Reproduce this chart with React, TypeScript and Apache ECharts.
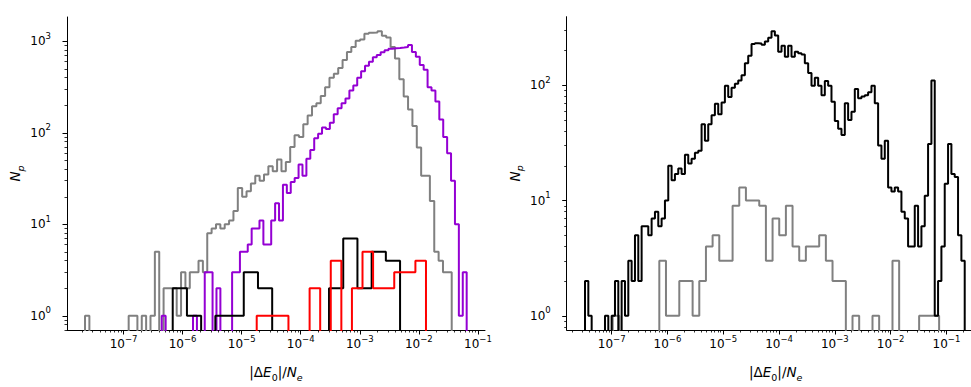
import React, { useEffect, useRef } from "react";
import * as echarts from "echarts";

// ---------------- DATA ----------------
// Histograms of |ΔE0|/Ne (x, log10 bin edges) vs N_p (counts).
// Each histogram: first bin edge (log10), bin width (decades), counts per bin.

// Left panel
const leftGrayFirstEdge = -7.652;
const leftGrayBinWidth = 0.07391;
const leftGrayCounts = [
  1, 0, 0, 0, 0, 0, 0, 0, 0, 0,
  1, 1, 0, 1, 0, 1, 5, 0, 2, 2,
  2, 1, 3, 2, 3, 3, 4, 3, 8, 9,
  10, 9, 10, 11, 14, 25, 20, 23, 28, 34,
  30, 35, 43, 38, 51, 38, 48, 70, 94, 90,
  124, 155, 195, 210, 253, 315, 400, 442, 510, 625,
  766, 866, 1015, 1050, 1210, 1245, 1250, 1290, 1150, 1100,
  866, 650, 385, 250, 180, 119, 69, 34, 34, 18,
  5, 4, 3, 3,
];

const leftPurpleFirstEdge = -6.353;
const leftPurpleBinWidth = 0.06619;
const leftPurpleCounts = [
  1, 0, 0, 0, 0, 0, 0, 0, 1, 0,
  0, 3, 3, 0, 2, 0, 0, 0, 3, 3,
  5, 5, 6, 9, 9, 11, 6, 6, 11, 17,
  11, 27, 22, 29, 32, 45, 34, 52, 65, 87,
  98, 114, 110, 129, 160, 186, 210, 237, 290, 330,
  400, 470, 540, 600, 670, 710, 760, 800, 830, 840,
  845, 855, 866, 910, 766, 680, 553, 490, 315, 290,
  220, 140, 90, 60, 30, 10, 1, 3,
];

const leftBlackFirstEdge = -6.167;
const leftBlackBinWidth = 0.24056;
const leftBlackCounts = [2, 1, 0, 1, 1, 3, 2, 0, 0, 0, 0, 2, 7, 2, 5, 4];

const leftRedFirstEdge = -4.745;
const leftRedBinWidth = 0.17911;
const leftRedCounts = [1, 1, 1, 0, 0, 2, 0, 4, 0, 2, 5, 2, 2, 3, 3, 4];

// Right panel
const rightBlackFirstEdge = -7.478;
const rightBlackBinWidth = 0.0597;
const rightBlackCounts = [
  2, 1, 0, 0, 0, 0, 1, 0, 1, 2,
  0, 2, 1, 3, 2, 5, 2, 6, 6, 5,
  7, 8, 6, 7, 10, 20, 15, 17, 19, 17,
  25, 21, 23, 26, 27, 46, 33, 46, 55, 69,
  56, 71, 99, 79, 95, 103, 110, 122, 155, 180,
  228, 232, 230, 225, 240, 259, 295, 270, 195, 220,
  177, 220, 177, 195, 190, 185, 155, 128, 99, 116,
  99, 82, 109, 99, 72, 49, 42, 37, 70, 50,
  59, 93, 77, 80, 82, 87, 99, 70, 30, 23,
  33, 13, 12, 13, 12, 8, 7, 4, 4, 9,
  4, 6, 11, 31, 110, 1, 2, 4, 14, 31,
  17, 16, 5, 3,
];

const rightGrayFirstEdge = -6.982;
const rightGrayBinWidth = 0.11941;
const rightGrayCounts = [
  1, 0, 0, 0, 0, 0, 0, 3, 1, 1,
  2, 2, 1, 2, 4, 5, 3, 3, 9, 13,
  10, 10, 9, 3, 7, 5, 9, 4, 3, 4,
  4, 5, 3, 2, 2, 0, 1, 0, 0, 1,
  0, 0, 3, 0, 0, 0, 1, 1, 1,
];

// Tick decades (exponents of 10)
const xTickExponents = [-7, -6, -5, -4, -3, -2, -1];
const leftYTickExponents = [0, 1, 2, 3];
const rightYTickExponents = [0, 1, 2];

// Axis ranges (log10)
const leftXRange = [-7.957, -0.88];
const leftYRange = [-0.155, 3.266];
const rightXRange = [-7.806, -0.314];
const rightYRange = [-0.123, 2.595];

// ---------------- HELPERS ----------------
const FONT = "DejaVu Sans";
const FLOOR = -3; // empty bins fall below the axis

function stepData(first: number, width: number, counts: number[]) {
  const pts: number[][] = [[first, FLOOR]];
  counts.forEach((c, i) => {
    pts.push([first + i * width, c > 0 ? Math.log10(c) : FLOOR]);
  });
  pts.push([first + counts.length * width, FLOOR]);
  return pts;
}

function minorExponents(lo: number, hi: number) {
  const out: number[] = [];
  for (let d = Math.floor(lo) - 1; d <= Math.ceil(hi); d++) {
    for (let k = 2; k <= 9; k++) {
      const v = d + Math.log10(k);
      if (v >= lo && v <= hi) out.push(v);
    }
  }
  return out;
}

function expLabel(v: number) {
  const n = Math.round(v);
  const e = n < 0 ? "\u2212" + Math.abs(n) : String(n);
  return `{b|10}{s|${e}}`;
}

const tickRich = {
  b: { fontFamily: FONT, fontSize: 12, lineHeight: 20, color: "#000" },
  s: { fontFamily: FONT, fontSize: 8.5, lineHeight: 10, verticalAlign: "top", color: "#000" },
};

const nameRich = {
  t: { fontFamily: FONT, fontSize: 13.5, lineHeight: 20, color: "#000" },
  i: { fontFamily: FONT, fontSize: 13.5, fontStyle: "italic", lineHeight: 20, color: "#000" },
  d: { fontFamily: FONT, fontSize: 9.5, lineHeight: 12, verticalAlign: "bottom", color: "#000" },
  di: { fontFamily: FONT, fontSize: 9.5, fontStyle: "italic", lineHeight: 12, verticalAlign: "bottom", color: "#000" },
};

const X_NAME = "{t||Δ}{i|E}{d|0}{t||/}{i|N}{di|e}";
const Y_NAME = "{i|N}{di|p}";

function majorX(gridIndex: number, range: number[]) {
  return {
    type: "value",
    gridIndex,
    position: "bottom",
    min: range[0],
    max: range[1],
    name: X_NAME,
    nameLocation: "middle",
    nameGap: 32,
    nameTextStyle: { rich: nameRich },
    axisLine: { show: true, onZero: false, lineStyle: { color: "#000", width: 1 } },
    axisTick: { show: true, customValues: xTickExponents, length: 4.5, lineStyle: { color: "#000", width: 1 } },
    axisLabel: { show: true, customValues: xTickExponents, formatter: expLabel, margin: 4, rich: tickRich },
    splitLine: { show: false },
  };
}

function minorX(gridIndex: number, range: number[]) {
  return {
    type: "value",
    gridIndex,
    position: "bottom",
    min: range[0],
    max: range[1],
    axisLine: { show: false, onZero: false },
    axisTick: { show: true, customValues: minorExponents(range[0], range[1]), length: 2.5, lineStyle: { color: "#000", width: 0.8 } },
    axisLabel: { show: false },
    splitLine: { show: false },
  };
}

function majorY(gridIndex: number, range: number[], ticks: number[]) {
  return {
    type: "value",
    gridIndex,
    position: "left",
    min: range[0],
    max: range[1],
    name: Y_NAME,
    nameLocation: "middle",
    nameRotate: 90,
    nameGap: 42,
    nameTextStyle: { rich: nameRich },
    axisLine: { show: true, onZero: false, lineStyle: { color: "#000", width: 1 } },
    axisTick: { show: true, customValues: ticks, length: 4.5, lineStyle: { color: "#000", width: 1 } },
    axisLabel: { show: true, customValues: ticks, formatter: expLabel, margin: 16, rich: tickRich },
    splitLine: { show: false },
  };
}

function minorY(gridIndex: number, range: number[]) {
  return {
    type: "value",
    gridIndex,
    position: "left",
    min: range[0],
    max: range[1],
    axisLine: { show: false, onZero: false },
    axisTick: { show: true, customValues: minorExponents(range[0], range[1]), length: 2.5, lineStyle: { color: "#000", width: 0.8 } },
    axisLabel: { show: false },
    splitLine: { show: false },
  };
}

function hist(name: string, xi: number, yi: number, first: number, width: number, counts: number[], color: string) {
  return {
    type: "line",
    name,
    xAxisIndex: xi,
    yAxisIndex: yi,
    step: "end",
    symbol: "none",
    showSymbol: false,
    clip: true,
    silent: true,
    data: stepData(first, width, counts),
    lineStyle: { color, width: 2 },
  };
}

export default function App() {
  const ref = useRef<HTMLDivElement>(null);

  useEffect(() => {
    if (!ref.current) return;
    const chart = echarts.init(ref.current, null, { renderer: "svg" });
    chart.setOption({
      animation: false,
      backgroundColor: "#ffffff",
      textStyle: { fontFamily: FONT },
      grid: [
        { left: 67, top: 17, width: 418, height: 325 },
        { left: 566.7, top: 16.7, width: 418, height: 325.3 },
      ],
      xAxis: [
        majorX(0, leftXRange),
        minorX(0, leftXRange),
        majorX(1, rightXRange),
        minorX(1, rightXRange),
      ],
      yAxis: [
        majorY(0, leftYRange, leftYTickExponents),
        minorY(0, leftYRange),
        majorY(1, rightYRange, rightYTickExponents),
        minorY(1, rightYRange),
      ],
      series: [
        hist("gray", 0, 0, leftGrayFirstEdge, leftGrayBinWidth, leftGrayCounts, "#808080"),
        hist("purple", 0, 0, leftPurpleFirstEdge, leftPurpleBinWidth, leftPurpleCounts, "#9400d3"),
        hist("black", 0, 0, leftBlackFirstEdge, leftBlackBinWidth, leftBlackCounts, "#000000"),
        hist("red", 0, 0, leftRedFirstEdge, leftRedBinWidth, leftRedCounts, "#ff0000"),
        hist("gray-right", 2, 2, rightGrayFirstEdge, rightGrayBinWidth, rightGrayCounts, "#808080"),
        hist("black-right", 2, 2, rightBlackFirstEdge, rightBlackBinWidth, rightBlackCounts, "#000000"),
      ],
    });
    return () => chart.dispose();
  }, []);

  return (
    <div
      style={{ position: "fixed", left: 0, top: 0, width: 971, height: 387, overflow: "hidden", background: "#fff" }}
    >
      <div ref={ref} style={{ width: 1000, height: 387 }} />
    </div>
  );
}
